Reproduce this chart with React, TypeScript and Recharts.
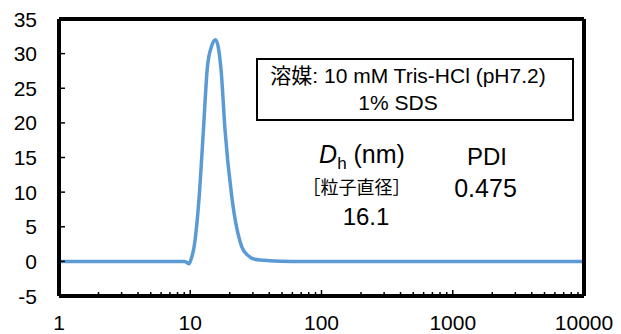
import { Line, LineChart, XAxis, YAxis } from "recharts";

// particle size (nm) vs. intensity
const sizeNm = [1, 3, 6, 9.1, 9.8, 10.1, 10.7, 11.7, 12.6, 13.5, 14.5, 15.6, 16.5, 17.2, 18.4, 20.7, 24.7, 27.7, 31, 40, 60, 200, 1000, 10000];
const intensity = [0, 0, 0, 0, -0.35, 0.2, 2.1, 9.4, 19.0, 28.0, 31.0, 32.0, 30.5, 27.5, 19.0, 9.4, 2.1, 0.8, 0.3, 0.1, 0, 0, 0, 0];

const xMajor = [1, 10, 100, 1000, 10000];
const xMinorSteps = [2, 3, 4, 5, 6, 7, 8, 9];
const yTicks = [-5, 0, 5, 10, 15, 20, 25, 30, 35];

const data = sizeNm.map((size, i) => ({ size, value: intensity[i] }));
const xTicks = [
  ...xMajor,
  ...xMajor.slice(0, -1).flatMap((d) => xMinorSteps.map((s) => s * d)),
].sort((a, b) => a - b);

const FONT = '"Liberation Sans", Arial, "Noto Sans CJK JP", sans-serif';
const LINE = "#5B9BD5";

function XTick({ x, y, payload }: any) {
  const v = payload.value;
  const major = xMajor.includes(v);
  return (
    <g>
      <line x1={x} x2={x} y1={y} y2={y - (major ? 6 : 4)} stroke="#000" strokeWidth={1.5} />
      {major && (
        <text x={x} y={y + 34} textAnchor="middle" fontSize={21} fontFamily={FONT} fill="#000">
          {v}
        </text>
      )}
    </g>
  );
}

function YTick({ x, y, payload }: any) {
  return (
    <g>
      <line x1={x} x2={x + 6} y1={y} y2={y} stroke="#000" strokeWidth={1.5} />
      <text x={x - 22} y={y + 7.5} textAnchor="end" fontSize={21} fontFamily={FONT} fill="#000">
        {payload.value}
      </text>
    </g>
  );
}

const centered = (left: number, top: number, size: number): React.CSSProperties => ({
  position: "absolute",
  left,
  top,
  transform: "translate(-50%, -50%)",
  fontSize: size,
  lineHeight: 1,
  whiteSpace: "nowrap",
  color: "#000",
});

export default function App() {
  return (
    <div style={{ position: "absolute", left: 0, top: 0, width: 621, height: 334, background: "#fff", fontFamily: FONT }}>
      <LineChart width={621} height={334} data={data} margin={{ top: 18, right: 36, left: 58, bottom: 37 }}>
        <XAxis
          dataKey="size"
          type="number"
          scale="log"
          domain={[1, 10000]}
          ticks={xTicks}
          interval={0}
          height={1}
          tickSize={0}
          tickMargin={0}
          tick={<XTick />}
          tickLine={false}
          axisLine={{ stroke: "#000", strokeWidth: 4 }}
          allowDataOverflow
        />
        <XAxis
          xAxisId="top"
          orientation="top"
          type="number"
          scale="log"
          domain={[1, 10000]}
          height={1}
          tick={false}
          tickLine={false}
          axisLine={{ stroke: "#000", strokeWidth: 4 }}
        />
        <YAxis
          type="number"
          domain={[-5, 35]}
          ticks={yTicks}
          interval={0}
          width={1}
          tickSize={0}
          tickMargin={0}
          tick={<YTick />}
          tickLine={false}
          axisLine={{ stroke: "#000", strokeWidth: 4 }}
          allowDataOverflow
        />
        <YAxis
          yAxisId="right"
          orientation="right"
          type="number"
          domain={[-5, 35]}
          width={1}
          tick={false}
          tickLine={false}
          axisLine={{ stroke: "#000", strokeWidth: 4 }}
        />
        <Line
          type="monotone"
          dataKey="value"
          stroke={LINE}
          strokeWidth={3.5}
          dot={false}
          isAnimationActive={false}
        />
      </LineChart>

      <div
        style={{
          position: "absolute",
          left: 256,
          top: 58,
          width: 318,
          height: 63,
          boxSizing: "border-box",
          border: "2px solid #000",
          background: "#fff",
        }}
      />
      <div style={centered(408, 75, 21)}>溶媒: 10 mM Tris-HCl (pH7.2)</div>
      <div style={centered(398, 102, 21)}>1% SDS</div>

      <div style={centered(362, 157, 25)}>
        <i>D</i>
        <sub style={{ fontSize: 17, verticalAlign: "-0.35em" }}>h</sub> (nm)
      </div>
      <div style={centered(487, 157, 24)}>PDI</div>
      <div style={centered(356.5, 188, 18)}>［粒子直径］</div>
      <div style={centered(485.5, 188, 25)}>0.475</div>
      <div style={centered(366, 217, 24)}>16.1</div>
    </div>
  );
}
